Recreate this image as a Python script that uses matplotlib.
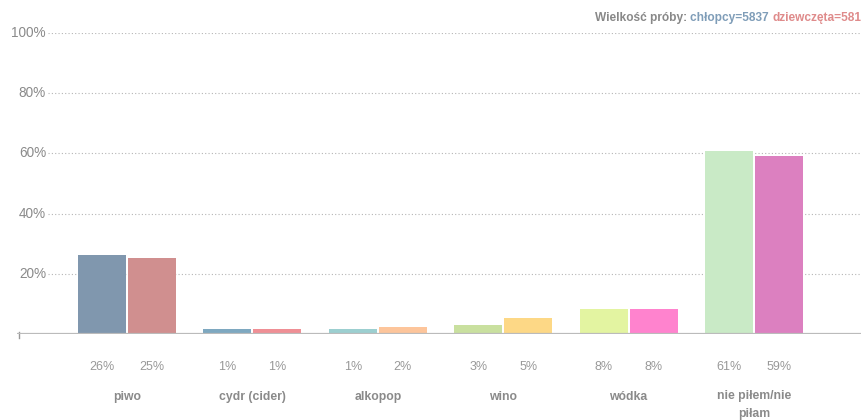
import matplotlib.pyplot as plt
import numpy as np

categories = ["piwo", "cydr (cider)", "alkopop", "wino", "wódka", "nie piłem/nie\npiłam"]
boys = [26.3, 1.6, 1.5, 3.0, 8.3, 60.9]
girls = [25.3, 1.6, 2.4, 5.3, 8.3, 59.2]
boy_labels = ["26%", "1%", "1%", "3%", "8%", "61%"]
girl_labels = ["25%", "1%", "2%", "5%", "8%", "59%"]
boy_colors = ["#8097ae", "#7ea8c0", "#9ccfd0", "#c9e09f", "#e3f4a1", "#c9eac6"]
girl_colors = ["#d08f8f", "#ef8f95", "#fdc59b", "#fdd886", "#ff83ce", "#dc80c0"]
yticks = [20, 40, 60, 80, 100]

plt.rcParams['font.family'] = ['Liberation Sans', 'DejaVu Sans']

fig = plt.figure(figsize=(8.61, 4.20), dpi=100)
ax = fig.add_axes([17 / 861, (420 - 334) / 420, 1 - 17 / 861, (334 - 33) / 420])

x = np.arange(len(categories))
w = 0.383
ax.bar(x - 0.2, boys, width=w, color=boy_colors, zorder=3)
ax.bar(x + 0.2, girls, width=w, color=girl_colors, zorder=3)

ax.set_xlim(-0.877, 5.853)
ax.set_ylim(0, 100)

# dotted gridlines starting right of the tick labels
ax.hlines(yticks, -0.63, 5.853, colors="#b5b5b5", linestyles=(0, (1, 2)), linewidth=0.8, zorder=1)
for t in yticks:
    ax.text(-0.645, t, f"{t}%", ha="right", va="center", fontsize=9.8, color="#8a8a8a")

# baseline
ax.axhline(0, color="#bbbbbb", linewidth=1.6, zorder=4)
ax.plot([-0.865, -0.865], [-1.2, 0.5], color="#999999", linewidth=1, clip_on=False)

for i in range(len(categories)):
    ax.text(x[i] - 0.2, -10.8, boy_labels[i], ha="center", va="center", fontsize=9, color="#999999")
    ax.text(x[i] + 0.2, -10.8, girl_labels[i], ha="center", va="center", fontsize=9, color="#999999")
    two = "\n" in categories[i]
    ax.text(x[i], -18.5 if two else -20.9, categories[i], ha="center", va="top" if two else "center",
            fontsize=8.8, fontweight="bold", color="#8a8a8a", linespacing=1.75)

for s in ax.spines.values():
    s.set_visible(False)
ax.set_xticks([])
ax.set_yticks([])

# sample size header (runs off the right edge like the original)
y_head = 1 - 18 / 420
t1 = fig.text(595 / 861, y_head, "Wielkość próby: ", ha="left", va="center",
              fontsize=8.6, fontweight="bold", color="#888888")
fig.canvas.draw()
bb = t1.get_window_extent()
t2 = fig.text(bb.x1 / 861, y_head, "chłopcy=5837 ", ha="left", va="center",
              fontsize=8.6, fontweight="bold", color="#7f9db8")
bb2 = t2.get_window_extent()
fig.text(bb2.x1 / 861, y_head, "dziewczęta=5818", ha="left", va="center",
         fontsize=8.6, fontweight="bold", color="#df8b8b")

fig.savefig("out.png", dpi=100)
